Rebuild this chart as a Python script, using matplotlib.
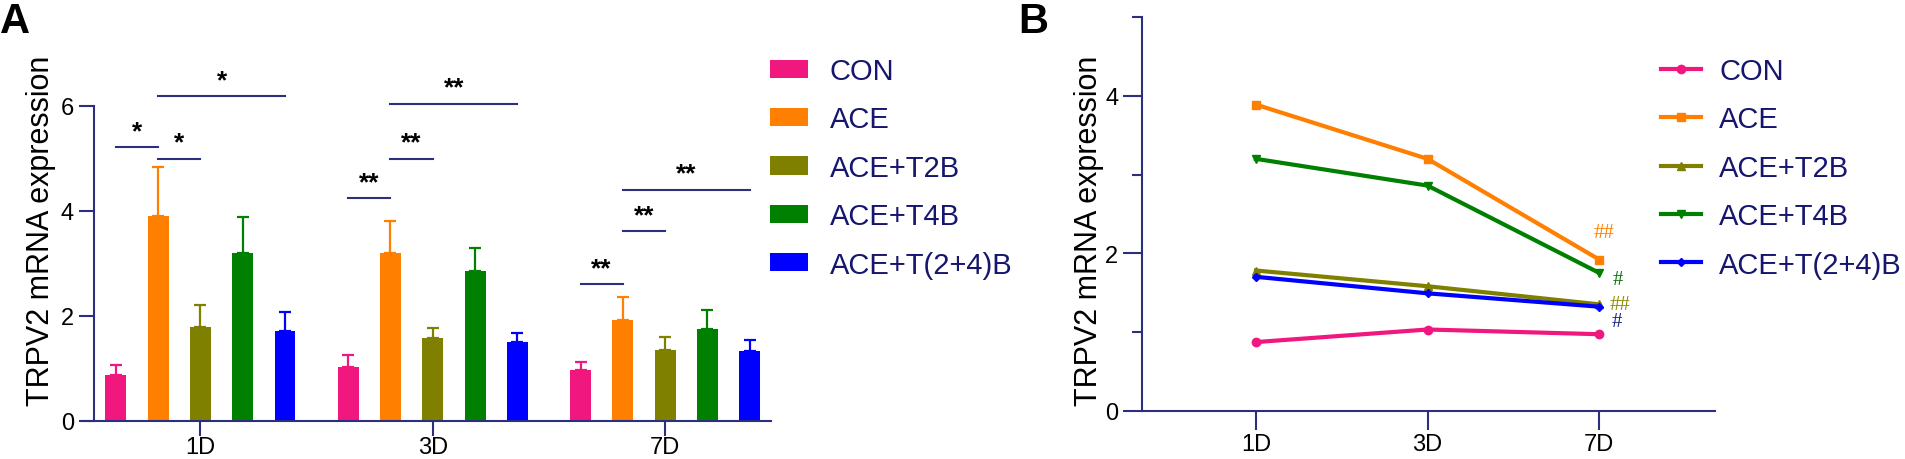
import numpy as np
import matplotlib
matplotlib.use("Agg")
import matplotlib.pyplot as plt
from matplotlib.patches import Patch
from matplotlib.lines import Line2D

plt.rcParams['font.family'] = ['Liberation Sans', 'DejaVu Sans']

days = ['1D', '3D', '7D']
groups = ['CON', 'ACE', 'ACE+T2B', 'ACE+T4B', 'ACE+T(2+4)B']
colors = ['#F0177F', '#FF7F00', '#808000', '#008000', '#0000FF']

# mean expression per group, order = days
means = {
    'CON':         [0.87, 1.03, 0.97],
    'ACE':         [3.89, 3.20, 1.92],
    'ACE+T2B':     [1.78, 1.58, 1.35],
    'ACE+T4B':     [3.20, 2.86, 1.75],
    'ACE+T(2+4)B': [1.70, 1.49, 1.32],
}
# top of error bar (mean + sd)
err_top = {
    'CON':         [1.06, 1.26, 1.11],
    'ACE':         [4.84, 3.80, 2.35],
    'ACE+T2B':     [2.20, 1.77, 1.60],
    'ACE+T4B':     [3.88, 3.29, 2.10],
    'ACE+T(2+4)B': [2.08, 1.68, 1.54],
}

# significance brackets in panel A: (day index, group from, group to, height, label)
sig_day = [0, 0, 0, 1, 1, 1, 2, 2, 2]
sig_from = [0, 1, 1, 0, 1, 1, 0, 1, 1]
sig_to = [1, 2, 4, 1, 2, 4, 1, 2, 4]
sig_y = [5.21, 4.99, 6.18, 4.24, 4.99, 6.04, 2.60, 3.61, 4.40]
sig_txt = ['*', '*', '*', '**', '**', '**', '**', '**', '**']

# hash marks next to 7D in panel B
hash_txt = ['##', '#', '##', '#']
hash_x = [2.03, 2.11, 2.12, 2.10]
hash_y = [2.26, 1.67, 1.35, 1.13]
hash_col = ['#FF7F00', '#0A6E0A', '#8A8A00', '#10208A']

markers = ['o', 's', '^', 'v', 'D']
msizes = [6, 6, 6, 6, 4]

axis_col = '#2B2F7E'
leg_col = '#16166E'

fig = plt.figure(figsize=(19.05, 4.6), dpi=100)

# ---------------- panel A ----------------
axA = fig.add_axes([82 / 1905, 1 - 421.7 / 460, 689 / 1905, 315 / 460])
bar_w = 0.09
offs = (np.arange(len(groups)) - 2) * 0.182
x = np.arange(len(days))
for i, g in enumerate(groups):
    m = np.array(means[g])
    e = np.array(err_top[g]) - m
    axA.bar(x + offs[i], m, width=bar_w, color=colors[i], label=g, zorder=2)
    axA.errorbar(x + offs[i], m, yerr=[np.zeros_like(e), e], fmt='none',
                 ecolor=colors[i], elinewidth=1.6, capsize=4, capthick=1.6, zorder=1)

for d, a, b, yv, t in zip(sig_day, sig_from, sig_to, sig_y, sig_txt):
    x0, x1 = d + offs[a], d + offs[b]
    axA.plot([x0, x1], [yv, yv], color=axis_col, lw=1.5, clip_on=False)
    axA.text((x0 + x1) / 2, yv + 0.08, t, ha='center', va='bottom', fontsize=19,
             fontweight='bold', color='black', clip_on=False)

axA.set_xlim(-0.510, 2.456)
axA.set_ylim(0, 6)
axA.set_xticks(x)
axA.set_xticklabels(days)
axA.set_yticks([0, 2, 4, 6])
for s in ['top', 'right']:
    axA.spines[s].set_visible(False)
axA.spines['left'].set_position(('axes', 12 / 689))
for s in ['left', 'bottom']:
    axA.spines[s].set_color(axis_col)
    axA.spines[s].set_linewidth(1.5)
axA.tick_params(axis='both', colors=axis_col, width=1.5, length=10.5, labelsize=17,
                labelcolor='black', pad=4)
axA.tick_params(axis='x', pad=0.5)
fig.text(41 / 1905, 1 - 231 / 460, 'TRPV2 mRNA expression', rotation=90,
         ha='center', va='center', fontsize=22, color='black')
fig.text(0.0, 1 - 2 / 460, 'A', ha='left', va='top', fontsize=30, fontweight='bold')

handlesA = [Patch(facecolor=c, edgecolor='none') for c in colors]
legA = fig.legend(handlesA, groups, loc='upper left', bbox_to_anchor=(770 / 1905, 1 - 58 / 460),
                  frameon=False, fontsize=21, labelcolor=leg_col, handlelength=1.3,
                  handleheight=0.58, handletextpad=0.75, labelspacing=0.70,
                  borderpad=0, borderaxespad=0)

# ---------------- panel B ----------------
axB = fig.add_axes([1142 / 1905, 1 - 411.5 / 460, 573.5 / 1905, 393.2 / 460])
for i, g in enumerate(groups):
    axB.plot(x, means[g], color=colors[i], lw=3, marker=markers[i], ms=msizes[i],
             label=g, zorder=3)
for t, hx, hy, hc in zip(hash_txt, hash_x, hash_y, hash_col):
    axB.text(hx, hy, t, ha='center', va='center', fontsize=15, color=hc,
             family=['Liberation Serif', 'DejaVu Serif'])

axB.set_xlim(-0.664, 2.678)
axB.set_ylim(0, 5)
axB.set_xticks(x)
axB.set_xticklabels(days)
axB.set_yticks([0, 2, 4])
axB.set_yticks([1, 3, 5], minor=True)
for s in ['top', 'right']:
    axB.spines[s].set_visible(False)
for s in ['left', 'bottom']:
    axB.spines[s].set_color(axis_col)
    axB.spines[s].set_linewidth(1.5)
axB.tick_params(axis='both', which='major', colors=axis_col, width=1.5, length=14,
                labelsize=17, labelcolor='black', pad=3)
axB.tick_params(axis='x', which='major', pad=2.5)
axB.tick_params(axis='y', which='minor', colors=axis_col, width=1.5, length=7)
fig.text(1089 / 1905, 1 - 231 / 460, 'TRPV2 mRNA expression', rotation=90,
         ha='center', va='center', fontsize=22, color='black')
fig.text(1018 / 1905, 1 - 2 / 460, 'B', ha='left', va='top', fontsize=30, fontweight='bold')

handlesB = [Line2D([0], [0], color=c, lw=3, marker=mk, ms=ms)
            for c, mk, ms in zip(colors, markers, msizes)]
legB = fig.legend(handlesB, groups, loc='upper left', bbox_to_anchor=(1661 / 1905, 1 - 58 / 460),
                  frameon=False, fontsize=21, labelcolor=leg_col, handlelength=1.37,
                  handletextpad=0.62, labelspacing=0.70, borderpad=0, borderaxespad=0)

fig.savefig('out.png', dpi=100)
